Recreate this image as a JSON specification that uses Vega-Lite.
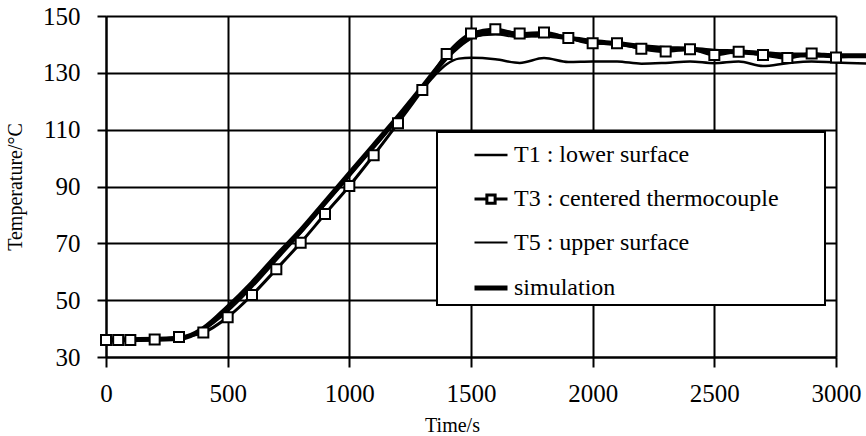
{
  "$schema": "https://vega.github.io/schema/vega-lite/v6.json",
  "width": 730,
  "height": 341,
  "autosize": {"type": "none"},
  "padding": {"left": 106, "top": 16, "right": 30, "bottom": 79},
  "background": "white",
  "config": {
    "font": "Liberation Serif",
    "view": {"stroke": null},
    "text": {"font": "Liberation Serif"},
    "axis": {
      "grid": true, "gridColor": "black", "gridWidth": 2, "gridOpacity": 1,
      "domainColor": "black", "domainWidth": 2,
      "tickColor": "black", "tickWidth": 2,
      "labelFont": "Liberation Serif", "labelColor": "black", "labelFontSize": 25,
      "labelOverlap": false, "labelBound": false, "labelFlush": false,
      "titleFont": "Liberation Serif", "titleColor": "black", "titleFontSize": 20, "titleFontWeight": "normal"
    },
    "legend": {"labelFont": "Liberation Serif"}
  },
  "data": {"values": [
    {"series": "T1 : lower surface", "time": 0, "temp": 36},
    {"series": "T1 : lower surface", "time": 300, "temp": 36.5},
    {"series": "T1 : lower surface", "time": 400, "temp": 40},
    {"series": "T1 : lower surface", "time": 500, "temp": 47},
    {"series": "T1 : lower surface", "time": 600, "temp": 55.5},
    {"series": "T1 : lower surface", "time": 700, "temp": 65},
    {"series": "T1 : lower surface", "time": 800, "temp": 74.5},
    {"series": "T1 : lower surface", "time": 900, "temp": 84.5},
    {"series": "T1 : lower surface", "time": 1000, "temp": 94.5},
    {"series": "T1 : lower surface", "time": 1100, "temp": 104.5},
    {"series": "T1 : lower surface", "time": 1200, "temp": 114},
    {"series": "T1 : lower surface", "time": 1300, "temp": 124},
    {"series": "T1 : lower surface", "time": 1350, "temp": 129},
    {"series": "T1 : lower surface", "time": 1400, "temp": 133},
    {"series": "T1 : lower surface", "time": 1450, "temp": 135},
    {"series": "T1 : lower surface", "time": 1500, "temp": 135.3},
    {"series": "T1 : lower surface", "time": 1600, "temp": 134.8},
    {"series": "T1 : lower surface", "time": 1700, "temp": 133.5},
    {"series": "T1 : lower surface", "time": 1800, "temp": 135.2},
    {"series": "T1 : lower surface", "time": 1900, "temp": 133.8},
    {"series": "T1 : lower surface", "time": 2000, "temp": 134},
    {"series": "T1 : lower surface", "time": 2100, "temp": 134},
    {"series": "T1 : lower surface", "time": 2200, "temp": 133.2},
    {"series": "T1 : lower surface", "time": 2300, "temp": 133.5},
    {"series": "T1 : lower surface", "time": 2400, "temp": 134},
    {"series": "T1 : lower surface", "time": 2500, "temp": 133.4},
    {"series": "T1 : lower surface", "time": 2600, "temp": 134},
    {"series": "T1 : lower surface", "time": 2700, "temp": 132.4},
    {"series": "T1 : lower surface", "time": 2800, "temp": 133.4},
    {"series": "T1 : lower surface", "time": 2900, "temp": 134},
    {"series": "T1 : lower surface", "time": 3000, "temp": 133.6},
    {"series": "T1 : lower surface", "time": 3130, "temp": 133.3},

    {"series": "T3 : centered thermocouple", "time": 0, "temp": 36},
    {"series": "T3 : centered thermocouple", "time": 50, "temp": 36},
    {"series": "T3 : centered thermocouple", "time": 100, "temp": 36},
    {"series": "T3 : centered thermocouple", "time": 200, "temp": 36.2},
    {"series": "T3 : centered thermocouple", "time": 300, "temp": 37},
    {"series": "T3 : centered thermocouple", "time": 400, "temp": 38.6},
    {"series": "T3 : centered thermocouple", "time": 500, "temp": 44},
    {"series": "T3 : centered thermocouple", "time": 600, "temp": 51.8},
    {"series": "T3 : centered thermocouple", "time": 700, "temp": 60.9},
    {"series": "T3 : centered thermocouple", "time": 800, "temp": 70.2},
    {"series": "T3 : centered thermocouple", "time": 900, "temp": 80.3},
    {"series": "T3 : centered thermocouple", "time": 1000, "temp": 90.2},
    {"series": "T3 : centered thermocouple", "time": 1100, "temp": 101},
    {"series": "T3 : centered thermocouple", "time": 1200, "temp": 112.3},
    {"series": "T3 : centered thermocouple", "time": 1300, "temp": 124},
    {"series": "T3 : centered thermocouple", "time": 1400, "temp": 136.6},
    {"series": "T3 : centered thermocouple", "time": 1500, "temp": 143.8},
    {"series": "T3 : centered thermocouple", "time": 1600, "temp": 145.3},
    {"series": "T3 : centered thermocouple", "time": 1700, "temp": 143.8},
    {"series": "T3 : centered thermocouple", "time": 1800, "temp": 144.2},
    {"series": "T3 : centered thermocouple", "time": 1900, "temp": 142.3},
    {"series": "T3 : centered thermocouple", "time": 2000, "temp": 140.4},
    {"series": "T3 : centered thermocouple", "time": 2100, "temp": 140.4},
    {"series": "T3 : centered thermocouple", "time": 2200, "temp": 138.5},
    {"series": "T3 : centered thermocouple", "time": 2300, "temp": 137.5},
    {"series": "T3 : centered thermocouple", "time": 2400, "temp": 138.3},
    {"series": "T3 : centered thermocouple", "time": 2500, "temp": 136.3},
    {"series": "T3 : centered thermocouple", "time": 2600, "temp": 137.4},
    {"series": "T3 : centered thermocouple", "time": 2700, "temp": 136.3},
    {"series": "T3 : centered thermocouple", "time": 2800, "temp": 135.2},
    {"series": "T3 : centered thermocouple", "time": 2900, "temp": 136.8},
    {"series": "T3 : centered thermocouple", "time": 3000, "temp": 135.4},

    {"series": "T5 : upper surface", "time": 0, "temp": 36},
    {"series": "T5 : upper surface", "time": 300, "temp": 36.5},
    {"series": "T5 : upper surface", "time": 400, "temp": 39.5},
    {"series": "T5 : upper surface", "time": 500, "temp": 46},
    {"series": "T5 : upper surface", "time": 600, "temp": 54.5},
    {"series": "T5 : upper surface", "time": 700, "temp": 64},
    {"series": "T5 : upper surface", "time": 800, "temp": 73.5},
    {"series": "T5 : upper surface", "time": 900, "temp": 83.5},
    {"series": "T5 : upper surface", "time": 1000, "temp": 93.5},
    {"series": "T5 : upper surface", "time": 1100, "temp": 103.5},
    {"series": "T5 : upper surface", "time": 1200, "temp": 113.5},
    {"series": "T5 : upper surface", "time": 1300, "temp": 124.5},
    {"series": "T5 : upper surface", "time": 1400, "temp": 136},
    {"series": "T5 : upper surface", "time": 1450, "temp": 140},
    {"series": "T5 : upper surface", "time": 1500, "temp": 142.5},
    {"series": "T5 : upper surface", "time": 1600, "temp": 143.5},
    {"series": "T5 : upper surface", "time": 1700, "temp": 142.5},
    {"series": "T5 : upper surface", "time": 1800, "temp": 143},
    {"series": "T5 : upper surface", "time": 1900, "temp": 142},
    {"series": "T5 : upper surface", "time": 2000, "temp": 140.5},
    {"series": "T5 : upper surface", "time": 2100, "temp": 140},
    {"series": "T5 : upper surface", "time": 2200, "temp": 138.5},
    {"series": "T5 : upper surface", "time": 2300, "temp": 138},
    {"series": "T5 : upper surface", "time": 2400, "temp": 138},
    {"series": "T5 : upper surface", "time": 2500, "temp": 136.8},
    {"series": "T5 : upper surface", "time": 2600, "temp": 137.5},
    {"series": "T5 : upper surface", "time": 2700, "temp": 136.5},
    {"series": "T5 : upper surface", "time": 2800, "temp": 135.5},
    {"series": "T5 : upper surface", "time": 2900, "temp": 136.3},
    {"series": "T5 : upper surface", "time": 3000, "temp": 135.5},
    {"series": "T5 : upper surface", "time": 3130, "temp": 136},

    {"series": "simulation", "time": 0, "temp": 36},
    {"series": "simulation", "time": 300, "temp": 36.5},
    {"series": "simulation", "time": 400, "temp": 40},
    {"series": "simulation", "time": 500, "temp": 47.5},
    {"series": "simulation", "time": 600, "temp": 56},
    {"series": "simulation", "time": 700, "temp": 65.5},
    {"series": "simulation", "time": 800, "temp": 74.5},
    {"series": "simulation", "time": 900, "temp": 84.5},
    {"series": "simulation", "time": 1000, "temp": 94.5},
    {"series": "simulation", "time": 1100, "temp": 104.5},
    {"series": "simulation", "time": 1200, "temp": 114.5},
    {"series": "simulation", "time": 1300, "temp": 125},
    {"series": "simulation", "time": 1400, "temp": 135.5},
    {"series": "simulation", "time": 1450, "temp": 139.5},
    {"series": "simulation", "time": 1500, "temp": 142.5},
    {"series": "simulation", "time": 1600, "temp": 144.5},
    {"series": "simulation", "time": 1700, "temp": 143.5},
    {"series": "simulation", "time": 1800, "temp": 143.3},
    {"series": "simulation", "time": 1900, "temp": 142.3},
    {"series": "simulation", "time": 2000, "temp": 141},
    {"series": "simulation", "time": 2100, "temp": 140.3},
    {"series": "simulation", "time": 2200, "temp": 139.3},
    {"series": "simulation", "time": 2300, "temp": 138.6},
    {"series": "simulation", "time": 2400, "temp": 138.4},
    {"series": "simulation", "time": 2500, "temp": 137.6},
    {"series": "simulation", "time": 2600, "temp": 137.4},
    {"series": "simulation", "time": 2700, "temp": 136.8},
    {"series": "simulation", "time": 2800, "temp": 136.3},
    {"series": "simulation", "time": 2900, "temp": 136.3},
    {"series": "simulation", "time": 3000, "temp": 136},
    {"series": "simulation", "time": 3130, "temp": 136}
  ]},
  "encoding": {
    "x": {
      "field": "time", "type": "quantitative",
      "scale": {"domain": [0, 3000], "nice": false, "zero": false},
      "axis": {
        "values": [0, 500, 1000, 1500, 2000, 2500, 3000],
        "format": "d",
        "labelFont": "Liberation Serif",
        "tickSize": 10, "labelPadding": 14,
        "title": "Time/s", "titleX": 346, "titleY": 74, "titleBaseline": "alphabetic", "titleAlign": "center"
      }
    },
    "y": {
      "field": "temp", "type": "quantitative",
      "scale": {"domain": [30, 150], "nice": false, "zero": false},
      "axis": {
        "values": [30, 50, 70, 90, 110, 130, 150],
        "format": "d",
        "labelFont": "Liberation Serif",
        "tickSize": 9, "labelPadding": 17,
        "title": "Temperature/°C", "titlePadding": 17
      }
    }
  },
  "layer": [
    {
      "mark": {"type": "line", "interpolate": "monotone", "clip": false, "strokeJoin": "round"},
      "encoding": {
        "color": {
          "field": "series", "type": "nominal",
          "scale": {
            "domain": ["T1 : lower surface", "T3 : centered thermocouple", "T5 : upper surface", "simulation"],
            "range": ["black", "black", "black", "black"]
          },
          "legend": {
            "title": null,
            "orient": "none", "legendX": 331, "legendY": 116,
            "fillColor": "white", "strokeColor": "black",
            "padding": 5,
            "labelFont": "Liberation Serif", "labelFontSize": 24, "labelColor": "black",
            "labelOffset": 4, "labelLimit": 0,
            "labelExpr": "datum.label + '\u00a0\u00a0\u00a0\u00a0\u00a0\u00a0\u2009\u200b'",
            "symbolSize": 1089, "symbolOffset": 30, "rowPadding": 14,
            "symbolStrokeColor": "black",
            "encode": {
              "legend": {"update": {"strokeWidth": {"value": 2}}},
              "labels": {"update": {"font": {"value": "Liberation Serif"}}},
              "symbols": {
                "update": {
                  "shape": {"signal": "datum.value === 'T3 : centered thermocouple' ? 'M-1,0H-0.25M0.25,0H1M-0.25,-0.25H0.25V0.25H-0.25Z' : 'M-1,0H1'"},
                  "strokeWidth": {"signal": "datum.value === 'simulation' ? 5 : 2"},
                  "stroke": {"value": "black"},
                  "fill": {"value": "white"},
                  "opacity": {"value": 1}
                }
              }
            }
          }
        },
        "strokeWidth": {
          "field": "series", "type": "nominal",
          "scale": {
            "type": "ordinal",
            "domain": ["T1 : lower surface", "T3 : centered thermocouple", "T5 : upper surface", "simulation"],
            "range": [2.5, 3, 2, 5]
          },
          "legend": null
        }
      }
    },
    {
      "transform": [{"filter": "datum.series === 'T3 : centered thermocouple'"}],
      "mark": {"type": "point", "shape": "square", "size": 100, "filled": false, "fill": "white", "fillOpacity": 1, "stroke": "black", "strokeWidth": 2, "opacity": 1, "clip": false}
    }
  ]
}
